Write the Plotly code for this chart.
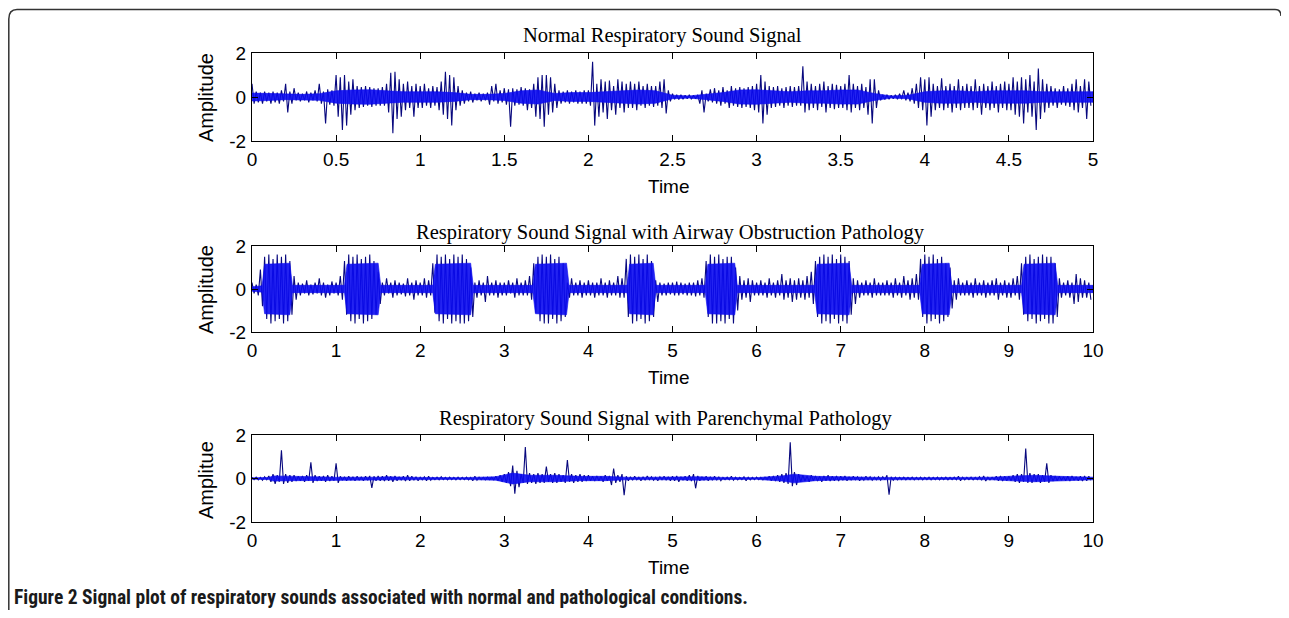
import plotly.graph_objects as go

# ---------------- data ----------------
# Panel 1: normal respiratory sound, 0-5 s, bins of 0.025 s (upper / lower peak per bin)
normal_step = 0.025
normal_upper = [
    0.6, 0.25, 0.2, 0.25, 0.2, 0.25, 0.2, 0.3, 0.6, 0.25,
    0.4, 0.2, 0.15, 0.25, 0.2, 0.3, 0.6, 0.25, 0.35, 0.3,
    1.0, 0.9, 1.0, 0.7, 0.8, 0.5, 0.45, 0.5, 0.45, 0.4,
    0.4, 0.45, 0.6, 1.1, 1.15, 0.8, 0.6, 0.7, 0.5, 0.6,
    0.5, 0.6, 0.4, 0.5, 0.45, 0.7, 1.15, 1.0, 0.9, 0.5,
    0.3, 0.2, 0.25, 0.15, 0.2, 0.15, 0.2, 0.5, 0.6, 0.3,
    0.4, 0.35, 0.4, 0.35, 0.45, 0.4, 0.35, 0.6, 0.9, 1.0,
    1.0, 0.9, 0.6, 0.3, 0.25, 0.3, 0.25, 0.3, 0.25, 0.3,
    0.3, 1.6, 0.6, 0.8, 0.7, 0.75, 0.5, 0.8, 0.7, 0.6,
    0.7, 0.6, 0.7, 0.5, 0.6, 0.5, 0.5, 0.7, 0.8, 0.3,
    0.15, 0.1, 0.1, 0.08, 0.1, 0.08, 0.1, 0.3, 0.15, 0.35,
    0.4, 0.3, 0.45, 0.3, 0.5, 0.4, 0.45, 0.4, 0.45, 0.5,
    0.6, 1.0, 0.7, 0.5, 0.45, 0.5, 0.4, 0.45, 0.5, 0.45,
    0.5, 1.4, 0.7, 0.6, 0.5, 0.6, 0.7, 0.5, 0.6, 0.55,
    0.5, 0.6, 1.0, 0.6, 0.5, 0.6, 0.45, 0.8, 0.8, 0.3,
    0.1, 0.1, 0.08, 0.1, 0.15, 0.3, 0.2, 0.4, 0.6, 0.9,
    0.8, 0.9, 0.6, 0.5, 0.85, 0.5, 0.6, 0.5, 0.8, 0.5,
    0.6, 0.5, 0.8, 0.5, 0.6, 0.5, 0.7, 0.5, 0.6, 0.7,
    0.6, 0.9, 0.7, 0.9, 0.8, 1.0, 0.7, 1.3, 0.8, 0.6,
    0.5, 0.4, 0.35, 0.5, 0.4, 0.6, 0.8, 0.5, 0.8, 0.7,
]
normal_lower = [
    -0.3, -0.25, -0.3, -0.2, -0.3, -0.25, -0.3, -0.2, -0.7, -0.3,
    -0.15, -0.2, -0.15, -0.25, -0.15, -0.2, -0.3, -1.2, -0.35, -0.4,
    -0.9, -1.5, -1.3, -0.8, -0.6, -0.5, -0.45, -0.4, -0.45, -0.4,
    -0.4, -0.4, -0.7, -1.65, -1.0, -0.9, -0.6, -0.5, -0.9, -0.5,
    -0.5, -0.4, -0.5, -0.4, -0.6, -0.8, -1.0, -1.3, -0.6, -0.4,
    -0.3, -0.2, -0.25, -0.15, -0.2, -0.15, -0.35, -0.2, -0.3, -0.25,
    -0.35, -1.35, -0.4, -0.35, -0.4, -0.6, -0.5, -0.9, -1.0, -1.35,
    -0.8, -0.7, -0.5, -0.3, -0.25, -0.3, -0.25, -0.3, -0.3, -0.3,
    -0.4, -1.3, -0.9, -0.7, -1.0, -0.6, -0.8, -0.5, -0.7, -0.5,
    -0.5, -0.6, -0.4, -0.5, -0.4, -0.45, -0.4, -0.5, -0.75, -0.2,
    -0.1, -0.12, -0.1, -0.08, -0.1, -0.08, -0.3, -0.7, -0.2, -0.25,
    -0.3, -0.4, -0.3, -0.5, -0.4, -0.45, -0.5, -0.45, -0.5, -0.6,
    -0.7, -1.2, -0.8, -0.5, -0.45, -0.4, -0.5, -0.4, -0.45, -0.4,
    -0.4, -0.7, -0.6, -0.5, -0.6, -0.45, -0.7, -0.5, -0.55, -0.5,
    -0.5, -0.6, -0.7, -0.5, -0.6, -0.5, -0.8, -1.2, -0.5, -0.15,
    -0.12, -0.1, -0.08, -0.1, -0.1, -0.15, -0.2, -0.3, -0.5, -0.6,
    -1.3, -0.9, -0.6, -0.5, -0.6, -0.5, -0.7, -0.5, -0.6, -0.5,
    -0.5, -0.6, -0.5, -0.8, -0.5, -0.6, -0.5, -0.7, -0.5, -0.6,
    -0.6, -0.8, -0.9, -1.2, -0.7, -0.9, -1.5, -1.0, -0.7, -0.5,
    -0.4, -0.5, -0.35, -0.4, -0.45, -0.6, -0.7, -0.5, -1.0, -0.4,
]
# dense (solid) core of the normal signal: time knots and half-height
normal_core_t = [
    0.0, 0.1, 0.2, 0.3, 0.4, 0.5, 0.6, 0.7, 0.8, 0.9,
    1.0, 1.1, 1.2, 1.3, 1.4, 1.5, 1.6, 1.7, 1.8, 1.9,
    2.0, 2.1, 2.2, 2.3, 2.4, 2.5, 2.6, 2.7, 2.8, 2.9,
    3.0, 3.1, 3.2, 3.3, 3.4, 3.5, 3.6, 3.7, 3.8, 3.9,
    4.0, 4.1, 4.2, 4.3, 4.4, 4.5, 4.6, 4.7, 4.8, 4.9, 5.0,
]
normal_core_a = [
    0.18, 0.16, 0.12, 0.12, 0.15, 0.28, 0.32, 0.33, 0.28, 0.24,
    0.24, 0.24, 0.2, 0.12, 0.12, 0.16, 0.28, 0.32, 0.16, 0.2,
    0.2, 0.24, 0.28, 0.32, 0.28, 0.08, 0.05, 0.12, 0.2, 0.32,
    0.33, 0.28, 0.24, 0.28, 0.28, 0.32, 0.32, 0.16, 0.05, 0.08,
    0.24, 0.28, 0.28, 0.24, 0.28, 0.28, 0.28, 0.24, 0.24, 0.24, 0.24,
]

# Panel 2: airway obstruction, 0-10 s, bins of 0.05 s
airway_step = 0.05
airway_upper = [
    0.3, 0.2, 0.9, 1.5, 1.6, 1.4, 1.6, 1.5, 1.6, 1.3,
    0.6, 0.3, 0.25, 0.4, 0.2, 0.3, 0.5, 0.3, 0.2, 0.35,
    0.3, 0.6, 1.3, 1.6, 1.5, 1.6, 1.4, 1.5, 1.6, 1.3,
    0.8, 0.3, 0.5, 0.3, 0.4, 0.3, 0.25, 0.5, 0.3, 0.4,
    0.3, 0.5, 0.4, 1.2, 1.6, 1.5, 1.6, 1.4, 1.6, 1.5,
    1.6, 1.4, 1.0, 0.3, 0.4, 0.3, 0.6, 0.3, 0.4, 0.3,
    0.3, 0.4, 0.3, 0.5, 0.3, 0.4, 0.6, 1.2, 1.5, 1.6,
    1.5, 1.6, 1.4, 1.5, 1.2, 0.3, 0.5, 0.3, 0.4, 0.3,
    0.4, 0.3, 0.3, 0.5, 0.3, 0.4, 0.3, 0.6, 0.5, 1.4,
    1.6, 1.5, 1.6, 1.4, 1.6, 1.3, 0.4, 0.3, 0.25, 0.3,
    0.3, 0.35, 0.3, 0.25, 0.3, 0.3, 0.4, 0.5, 1.3, 1.6,
    1.5, 1.6, 1.4, 1.5, 1.5, 1.0, 0.6, 0.4, 0.5, 0.4,
    0.3, 0.4, 0.3, 0.5, 0.3, 0.4, 0.7, 0.4, 0.5, 0.4,
    0.5, 0.4, 0.6, 0.8, 1.3, 1.5, 1.6, 1.5, 1.6, 1.4,
    1.6, 1.5, 1.3, 0.5, 0.4, 0.3, 0.4, 0.3, 0.5, 0.3,
    0.3, 0.4, 0.3, 0.5, 0.3, 0.6, 0.4, 0.5, 0.7, 1.4,
    1.6, 1.5, 1.6, 1.4, 1.5, 1.2, 1.0, 0.4, 0.5, 0.3,
    0.4, 0.3, 0.5, 0.3, 0.4, 0.3, 0.4, 0.5, 0.3, 0.4,
    0.3, 0.5, 0.6, 1.2, 1.5, 1.6, 1.4, 1.5, 1.6, 1.5,
    1.5, 1.2, 0.5, 0.3, 0.4, 0.3, 0.7, 0.5, 0.4, 0.3,
]
airway_lower = [
    -0.2, -0.3, -0.8, -1.4, -1.6, -1.5, -1.4, -1.6, -1.5, -1.2,
    -0.5, -0.3, -0.2, -0.3, -0.25, -0.2, -0.3, -0.4, -0.3, -0.2,
    -0.3, -0.5, -1.2, -1.5, -1.6, -1.4, -1.6, -1.5, -1.4, -1.2,
    -0.7, -0.3, -0.2, -0.4, -0.3, -0.25, -0.35, -0.3, -0.5, -0.3,
    -0.3, -0.4, -0.3, -1.1, -1.5, -1.6, -1.4, -1.6, -1.5, -1.6,
    -1.6, -1.5, -1.3, -0.4, -0.3, -0.6, -0.3, -0.3, -0.4, -0.3,
    -0.3, -0.2, -0.4, -0.3, -0.3, -0.3, -0.5, -1.1, -1.5, -1.6,
    -1.6, -1.4, -1.6, -1.5, -1.3, -0.4, -0.3, -0.3, -0.4, -0.3,
    -0.3, -0.4, -0.3, -0.3, -0.4, -0.3, -0.3, -0.4, -0.4, -1.3,
    -1.6, -1.5, -1.4, -1.6, -1.5, -1.3, -0.6, -0.3, -0.3, -0.25,
    -0.3, -0.3, -0.25, -0.3, -0.3, -0.35, -0.3, -0.4, -1.3, -1.6,
    -1.6, -1.5, -1.6, -1.4, -1.6, -1.0, -0.5, -0.4, -0.6, -0.3,
    -0.3, -0.3, -0.4, -0.3, -0.4, -0.3, -0.5, -0.4, -0.6, -0.5,
    -0.4, -0.5, -0.4, -0.7, -1.3, -1.6, -1.5, -1.6, -1.4, -1.6,
    -1.5, -1.6, -1.2, -0.7, -0.4, -0.3, -0.3, -0.4, -0.3, -0.3,
    -0.3, -0.3, -0.4, -0.3, -0.4, -0.3, -0.5, -0.4, -0.5, -1.3,
    -1.6, -1.5, -1.4, -1.6, -1.5, -1.3, -0.9, -0.5, -0.3, -0.3,
    -0.3, -0.4, -0.3, -0.3, -0.4, -0.3, -0.3, -0.5, -0.3, -0.4,
    -0.4, -0.3, -0.5, -1.2, -1.5, -1.4, -1.6, -1.5, -1.4, -1.6,
    -1.6, -1.3, -0.4, -0.3, -0.4, -0.7, -0.6, -0.4, -0.4, -0.5,
]
airway_core_t = [
    0.0, 0.12, 0.15, 0.45, 0.48, 1.1, 1.13, 1.5, 1.53, 2.15,
    2.18, 2.6, 2.63, 3.34, 3.37, 3.74, 3.77, 4.46, 4.49, 4.77,
    4.8, 5.39, 5.42, 5.74, 5.77, 6.69, 6.72, 7.1, 7.13, 7.94,
    7.97, 8.29, 8.32, 9.15, 9.18, 9.55, 9.58, 10.0,
]
airway_core_a = [
    0.1, 0.15, 1.15, 1.2, 0.17, 0.17, 1.15, 1.2, 0.17, 0.17,
    1.15, 1.2, 0.17, 0.17, 1.15, 1.2, 0.17, 0.17, 1.15, 1.2,
    0.17, 0.17, 1.15, 1.2, 0.17, 0.17, 1.15, 1.2, 0.17, 0.17,
    1.15, 1.2, 0.17, 0.17, 1.15, 1.2, 0.17, 0.17,
]

# Panel 3: parenchymal pathology, 0-10 s, bins of 0.05 s
paren_step = 0.05
paren_upper = [
    0.05, 0.06, 0.05, 0.08, 0.12, 0.2, 0.15, 1.3, 0.2, 0.15,
    0.15, 0.1, 0.12, 0.15, 0.75, 0.15, 0.1, 0.12, 0.15, 0.1,
    0.7, 0.1, 0.08, 0.1, 0.08, 0.1, 0.08, 0.1, 0.12, 0.1,
    0.12, 0.1, 0.15, 0.1, 0.12, 0.08, 0.1, 0.15, 0.1, 0.08,
    0.06, 0.08, 0.1, 0.05, 0.06, 0.08, 0.05, 0.06, 0.05, 0.06,
    0.05, 0.06, 0.05, 0.1, 0.06, 0.05, 0.06, 0.05, 0.1, 0.15,
    0.2, 0.3, 0.6, 0.35, 0.2, 1.45, 0.25, 0.2, 0.25, 0.2,
    0.55, 0.2, 0.25, 0.2, 0.15, 0.85, 0.2, 0.15, 0.2, 0.15,
    0.15, 0.1, 0.12, 0.1, 0.15, 0.12, 0.46, 0.15, 0.2, 0.1,
    0.08, 0.1, 0.06, 0.08, 0.12, 0.08, 0.06, 0.08, 0.1, 0.08,
    0.1, 0.12, 0.08, 0.1, 0.15, 0.2, 0.12, 0.08, 0.1, 0.08,
    0.1, 0.08, 0.05, 0.06, 0.1, 0.06, 0.05, 0.08, 0.06, 0.05,
    0.06, 0.05, 0.06, 0.1, 0.12, 0.15, 0.2, 0.25, 1.66, 0.3,
    0.2, 0.15, 0.12, 0.15, 0.12, 0.1, 0.12, 0.15, 0.1, 0.12,
    0.1, 0.12, 0.08, 0.1, 0.08, 0.06, 0.1, 0.08, 0.06, 0.08,
    0.08, 0.15, 0.08, 0.06, 0.05, 0.06, 0.05, 0.06, 0.05, 0.06,
    0.05, 0.06, 0.05, 0.06, 0.05, 0.06, 0.05, 0.06, 0.1, 0.06,
    0.05, 0.06, 0.05, 0.08, 0.12, 0.06, 0.05, 0.1, 0.12, 0.1,
    0.1, 0.15, 0.2, 0.2, 1.38, 0.25, 0.2, 0.2, 0.15, 0.7,
    0.15, 0.12, 0.1, 0.08, 0.1, 0.12, 0.08, 0.1, 0.12, 0.1,
]
paren_lower = [
    -0.05, -0.06, -0.08, -0.06, -0.15, -0.25, -0.15, -0.25, -0.2, -0.15,
    -0.12, -0.1, -0.15, -0.1, -0.2, -0.12, -0.1, -0.15, -0.12, -0.1,
    -0.2, -0.08, -0.1, -0.08, -0.1, -0.08, -0.1, -0.08, -0.43, -0.1,
    -0.1, -0.12, -0.1, -0.15, -0.1, -0.08, -0.12, -0.1, -0.08, -0.1,
    -0.06, -0.1, -0.08, -0.05, -0.06, -0.05, -0.06, -0.05, -0.06, -0.05,
    -0.05, -0.06, -0.1, -0.08, -0.05, -0.06, -0.05, -0.06, -0.1, -0.15,
    -0.2, -0.35, -0.7, -0.4, -0.2, -0.25, -0.2, -0.25, -0.2, -0.2,
    -0.15, -0.2, -0.2, -0.15, -0.2, -0.15, -0.2, -0.15, -0.15, -0.12,
    -0.1, -0.12, -0.1, -0.15, -0.1, -0.3, -0.2, -0.15, -0.77, -0.1,
    -0.08, -0.06, -0.1, -0.08, -0.06, -0.08, -0.1, -0.06, -0.08, -0.1,
    -0.1, -0.15, -0.08, -0.1, -0.12, -0.45, -0.1, -0.08, -0.1, -0.08,
    -0.08, -0.1, -0.05, -0.06, -0.08, -0.06, -0.05, -0.1, -0.06, -0.05,
    -0.05, -0.06, -0.05, -0.1, -0.12, -0.15, -0.2, -0.25, -0.35, -0.3,
    -0.15, -0.12, -0.15, -0.1, -0.12, -0.15, -0.1, -0.12, -0.1, -0.12,
    -0.08, -0.1, -0.08, -0.06, -0.1, -0.08, -0.06, -0.08, -0.06, -0.08,
    -0.06, -0.74, -0.08, -0.06, -0.05, -0.06, -0.05, -0.06, -0.05, -0.06,
    -0.05, -0.06, -0.05, -0.06, -0.05, -0.06, -0.05, -0.06, -0.1, -0.06,
    -0.05, -0.06, -0.05, -0.08, -0.12, -0.06, -0.05, -0.1, -0.12, -0.1,
    -0.1, -0.15, -0.2, -0.15, -0.2, -0.2, -0.15, -0.2, -0.15, -0.2,
    -0.12, -0.1, -0.08, -0.1, -0.12, -0.08, -0.1, -0.12, -0.1, -0.08,
]
paren_core_t = [
    0.0, 0.2, 0.25, 0.5, 0.8, 1.0, 1.5, 1.6, 2.0, 2.5,
    2.9, 3.1, 3.3, 3.6, 3.9, 4.2, 4.5, 5.0, 5.3, 5.6,
    6.0, 6.3, 6.45, 6.7, 7.0, 7.5, 8.0, 8.5, 8.8, 9.1,
    9.3, 9.6, 10.0,
]
paren_core_a = [
    0.03, 0.05, 0.12, 0.1, 0.08, 0.06, 0.06, 0.08, 0.05, 0.04,
    0.08, 0.25, 0.15, 0.15, 0.1, 0.1, 0.05, 0.06, 0.08, 0.05,
    0.04, 0.12, 0.2, 0.1, 0.07, 0.05, 0.04, 0.04, 0.06, 0.12,
    0.15, 0.1, 0.06,
]

panel_titles = [
    "Normal Respiratory Sound Signal",
    "Respiratory Sound Signal with Airway Obstruction Pathology",
    "Respiratory Sound Signal with Parenchymal Pathology",
]
y_titles = ["Amplitude", "Amplitude", "Amplitue"]
x_title = "Time"
x_ranges = [[0, 5], [0, 10], [0, 10]]
x_ticks_normal = [0, 0.5, 1, 1.5, 2, 2.5, 3, 3.5, 4, 4.5, 5]
x_ticktext_normal = ["0", "0.5", "1", "1.5", "2", "2.5", "3", "3.5", "4", "4.5", "5"]
x_ticks_long = [0, 1, 2, 3, 4, 5, 6, 7, 8, 9, 10]
x_ticktext_long = ["0", "1", "2", "3", "4", "5", "6", "7", "8", "9", "10"]
y_ticks = [-2, 0, 2]
y_ticktext = ["-2", "0", "2"]
caption_bold = "Figure 2"
caption_rest = "Signal plot of respiratory sounds associated with normal and pathological conditions."

# ---------------- layout helpers ----------------
# the page body keeps an 8 px margin, so the figure is sized to fit the window
OFF = 8
W, H = 1289 - 2 * OFF, 618 - 2 * OFF


def px(x):
    return (x - OFF) / W


def py(y):
    return 1 - (y - OFF) / H


def zigzag(step, upper, lower):
    xs, ys = [], []
    for i, (u, l) in enumerate(zip(upper, lower)):
        xs.append(i * step)
        ys.append(u)
        xs.append(i * step + step / 2)
        ys.append(l)
    return xs, ys


def core_polygon(ts, amps):
    return list(ts) + list(ts)[::-1], list(amps) + [-a for a in amps][::-1]


panels = [
    (normal_step, normal_upper, normal_lower, normal_core_t, normal_core_a,
     x_ticks_normal, x_ticktext_normal),
    (airway_step, airway_upper, airway_lower, airway_core_t, airway_core_a,
     x_ticks_long, x_ticktext_long),
    (paren_step, paren_upper, paren_lower, paren_core_t, paren_core_a,
     x_ticks_long, x_ticktext_long),
]
# pixel boxes of the three axes (left, right, top, bottom) in window pixels
boxes = [(252, 1093, 53, 141), (252, 1093, 246, 332), (252, 1093, 435, 522)]
title_pos = [(662, 35), (670, 232), (665, 418)]
ylab_pos = [(206, 98), (206, 290), (206, 480)]
xlab_pos = [(669, 186), (669, 377), (669, 567)]

fig = go.Figure()
annotations = []
tick_font = dict(family="Liberation Sans, Arial, sans-serif", size=19, color="black")
for k, (step, up, lo, ct, ca, tv, tt) in enumerate(panels):
    n = "" if k == 0 else str(k + 1)
    xs, ys = zigzag(step, up, lo)
    fig.add_trace(go.Scatter(
        x=xs, y=ys, mode="lines",
        line=dict(color="#08087e", width=1.1),
        xaxis="x" + n, yaxis="y" + n, showlegend=False, hoverinfo="skip",
    ))
    cx, cy = core_polygon(ct, ca)
    fig.add_trace(go.Scatter(
        x=cx, y=cy, mode="lines", fill="toself", fillcolor="rgba(11,11,240,0.9)",
        line=dict(width=0.6, color="#0b0bf0"),
        xaxis="x" + n, yaxis="y" + n, showlegend=False, hoverinfo="skip",
    ))
    l, r, t, b = boxes[k]
    axis_common = dict(
        showline=True, linecolor="black", linewidth=1, mirror="ticks",
        ticks="inside", tickcolor="black", ticklen=6, tickwidth=1,
        showgrid=False, zeroline=False, automargin=False, tickfont=tick_font,
    )
    fig.layout["xaxis" + n] = dict(
        domain=[px(l), px(r)], range=x_ranges[k], anchor="y" + n,
        tickvals=tv, ticktext=tt, ticklabelstandoff=1, **axis_common,
    )
    fig.layout["yaxis" + n] = dict(
        domain=[py(b), py(t)], range=[-2, 2], anchor="x" + n,
        tickvals=y_ticks, ticktext=y_ticktext, ticklabelstandoff=1, **axis_common,
    )
    annotations.append(dict(
        text=panel_titles[k], x=px(title_pos[k][0]), y=py(title_pos[k][1]),
        xref="paper", yref="paper", showarrow=False, xanchor="center", yanchor="middle",
        font=dict(family="Liberation Serif, Times New Roman, serif", size=20.5, color="black"),
    ))
    annotations.append(dict(
        text=y_titles[k], x=px(ylab_pos[k][0]), y=py(ylab_pos[k][1]),
        xref="paper", yref="paper", showarrow=False, textangle=-90,
        xanchor="center", yanchor="middle",
        font=dict(family="Liberation Sans, Arial, sans-serif", size=20, color="black"),
    ))
    annotations.append(dict(
        text=x_title, x=px(xlab_pos[k][0]), y=py(xlab_pos[k][1]),
        xref="paper", yref="paper", showarrow=False, xanchor="center", yanchor="middle",
        font=dict(family="Liberation Sans, Arial, sans-serif", size=19, color="black"),
    ))

annotations.append(dict(
    text="<b>" + caption_bold + " " + caption_rest + "</b>",
    x=px(12), y=py(597), xref="paper", yref="paper", showarrow=False,
    xanchor="left", yanchor="middle",
    font=dict(family="Liberation Sans Narrow, Roboto Condensed, Arial Narrow, sans-serif",
              size=19.5, color="#1a1a1a"),
))

frame_path = (
    f"M {px(8.8)} {py(610)} L {px(8.8)} {py(19)} "
    f"Q {px(8.8)} {py(9.6)} {px(17)} {py(9.6)} "
    f"L {px(1275)} {py(9.6)} Q {px(1281)} {py(9.6)} {px(1281)} {py(16)}"
)

fig.update_layout(
    width=W, height=H, margin=dict(l=0, r=0, t=0, b=0, autoexpand=False),
    paper_bgcolor="white", plot_bgcolor="white",
    annotations=annotations,
    shapes=[dict(type="path", path=frame_path, xref="paper", yref="paper",
                 line=dict(color="#333333", width=1.5))],
)

fig.write_html("out.html")
